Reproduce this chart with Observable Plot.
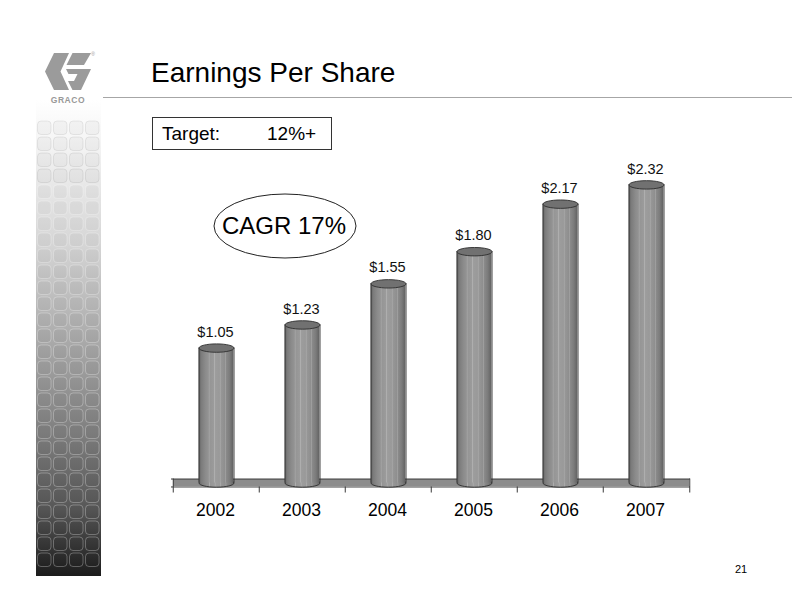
<!DOCTYPE html>
<html><head><meta charset="utf-8">
<script src="https://cdn.jsdelivr.net/npm/d3@7"></script>
<script src="https://cdn.jsdelivr.net/npm/@observablehq/plot@0.6"></script>
<style>
body{margin:0;background:#fff;font-family:"Liberation Sans",Arial,sans-serif;}
#page{position:relative;width:792px;height:612px;overflow:hidden;background:#fff;}
#chart,#deco{position:absolute;left:0;top:0;}
#deco{pointer-events:none;}
</style></head><body>
<div id="page"><div id="chart"></div><svg id="deco" width="792" height="612"></svg></div>
<script>
// ---- data ----
const years = ["2002", "2003", "2004", "2005", "2006", "2007"];
const eps = [1.05, 1.23, 1.55, 1.80, 2.17, 2.32];
const titleText = "Earnings Per Share";
const targetLabel = "Target:";
const targetValue = "12%+";
const cagrText = "CAGR 17%";
const pageNumber = "21";

const data = years.map((y, i) => ({year: y, eps: eps[i]}));

// ---- layout ----
const W = 792, H = 612, mL = 171, mR = 102, mT = 161.25, mB = 129.5;
const bw = (W - mL - mR) / years.length;
const cylW = 35, inset = (bw - cylW) / 2;
const baseHalf = 0.031, tickEnd = -0.078;

const ellipseSym = k => ({
  draw(ctx, size) {
    const rx = Math.sqrt(size / Math.PI), ry = rx * k, c = 0.5523;
    ctx.moveTo(rx, 0);
    ctx.bezierCurveTo(rx, ry * c, rx * c, ry, 0, ry);
    ctx.bezierCurveTo(-rx * c, ry, -rx, ry * c, -rx, 0);
    ctx.bezierCurveTo(-rx, -ry * c, -rx * c, -ry, 0, -ry);
    ctx.bezierCurveTo(rx * c, -ry, rx, -ry * c, rx, 0);
    ctx.closePath();
  }
});
const ell = ellipseSym(0.24);

const chart = Plot.plot({
  width: W, height: H,
  marginLeft: mL, marginRight: mR, marginTop: mT, marginBottom: mB,
  style: {background: "transparent", fontFamily: "'Liberation Sans', Arial, sans-serif", overflow: "visible"},
  x: {type: "band", domain: years, padding: 0, axis: null},
  y: {domain: [0, 2.5], axis: null},
  marks: [
    // floor plane
    Plot.barY(years, {x: d => d, y1: -baseHalf, y2: baseHalf, fill: "#8c8c8c", inset: 0, shapeRendering: "crispEdges"}),
    Plot.ruleY([baseHalf, -baseHalf], {stroke: "#3a3a3a", strokeWidth: 1}),
    // ticks at band edges
    Plot.ruleX(years, {x: d => d, y1: d => d === years[0] ? baseHalf : -baseHalf, y2: tickEnd, dx: -bw / 2, stroke: "#3a3a3a"}),
    Plot.ruleX([years[years.length - 1]], {x: d => d, y1: baseHalf, y2: tickEnd, dx: bw / 2, stroke: "#3a3a3a"}),
    // cylinder bottoms
    Plot.dot(data, {x: "year", y: () => 0, r: cylW / 2, symbol: ell, fill: "url(#cyl)", stroke: "#2e2e2e", strokeWidth: 0.9}),
    // cylinder bodies
    Plot.barY(data, {x: "year", y: "eps", fill: "url(#cyl)", insetLeft: inset, insetRight: inset}),
    Plot.ruleX(data, {x: "year", y1: 0, y2: "eps", dx: -cylW / 2, stroke: "#2e2e2e", strokeWidth: 0.9}),
    Plot.ruleX(data, {x: "year", y1: 0, y2: "eps", dx: cylW / 2, stroke: "#2e2e2e", strokeWidth: 0.9}),
    // cylinder tops
    Plot.dot(data, {x: "year", y: "eps", r: cylW / 2, symbol: ell, fill: "#717171", stroke: "#2e2e2e", strokeWidth: 0.9}),
    // value labels
    Plot.text(data, {x: "year", y: "eps", text: d => "$" + d.eps.toFixed(2), dy: -16, dx: -1, fontSize: 14.5, fill: "#111"}),
    // year labels
    Plot.text(years, {x: d => d, y: () => 0, text: d => d, dy: 27, dx: -1, fontSize: 17.5, fill: "#000"})
  ]
});
document.getElementById("chart").appendChild(chart);

// ---- decorations ----
const deco = d3.select("#deco");
const defs = deco.append("defs");
const g = defs.append("linearGradient").attr("id", "cyl").attr("x1", 0).attr("x2", 1).attr("y1", 0).attr("y2", 0);
[[0,"#646464"],[0.08,"#7c7c7c"],[0.2,"#8c8c8c"],[0.28,"#939393"],[0.3,"#adadad"],[0.32,"#959595"],
 [0.44,"#9b9b9b"],[0.46,"#b2b2b2"],[0.48,"#9d9d9d"],[0.6,"#999999"],[0.62,"#afafaf"],[0.64,"#979797"],
 [0.75,"#8f8f8f"],[0.77,"#a4a4a4"],[0.79,"#8b8b8b"],[0.9,"#7b7b7b"],[1,"#626262"]]
  .forEach(([o, c]) => g.append("stop").attr("offset", o).attr("stop-color", c));
const sg = defs.append("linearGradient").attr("id", "side").attr("x1", 0).attr("x2", 0).attr("y1", 0).attr("y2", 1);
[[0,"#ffffff"],[0.08,"#f6f6f6"],[0.3,"#d6d6d6"],[0.5,"#ababab"],[0.7,"#7f7f7f"],[0.86,"#575757"],[1,"#1c1c1c"]]
  .forEach(([o, c]) => sg.append("stop").attr("offset", o).attr("stop-color", c));

// sidebar
deco.append("rect").attr("x", 36).attr("y", 100).attr("width", 65).attr("height", 476).attr("fill", "url(#side)");
const sq = deco.append("g");
for (let r = 0; r < 28; r++) for (let c = 0; c < 4; c++) {
  sq.append("rect").attr("x", 37.5 + c * 16).attr("y", 121 + r * 16).attr("width", 13.5).attr("height", 13.5)
    .attr("rx", 3.5).attr("fill", "rgba(0,0,0,0.03)")
    .attr("stroke", r < 4 ? "rgba(0,0,0,0.07)" : "rgba(255,255,255,0.28)").attr("stroke-width", 1);
}

// logo
const logo = deco.append("g").attr("fill", "#9b9b9b");
logo.append("path").attr("d", "M54,53 L69,53 L60.5,71.5 L69,90 L54,90 L45,71.5 Z");
logo.append("path").attr("d", "M72.5,53 L91,53 L84,65 L66.5,65 Z");
logo.append("path").attr("d", "M66,69 L91,69 L81,90 L72.5,90 L68,81 L74,81 L77.5,74 L68.5,74 Z");
logo.append("text").attr("x", 68).attr("y", 103).attr("text-anchor", "middle").attr("font-size", 8.5)
  .attr("font-weight", "bold").attr("letter-spacing", 0.6).attr("font-family", "'Liberation Sans', Arial, sans-serif")
  .attr("fill", "#999").text("GRACO");
logo.append("text").attr("x", 93).attr("y", 56).attr("text-anchor", "middle").attr("font-size", 5).attr("fill", "#999").text("®");

const ff = "'Liberation Sans', Arial, sans-serif";
deco.append("text").attr("x", 151).attr("y", 82).attr("font-size", 28).attr("font-family", ff).attr("fill", "#000").text(titleText);
deco.append("line").attr("x1", 103).attr("x2", 792).attr("y1", 97.5).attr("y2", 97.5).attr("stroke", "#a6a6a6");

deco.append("rect").attr("x", 152.5).attr("y", 117.5).attr("width", 179).attr("height", 32).attr("fill", "none").attr("stroke", "#333");
deco.append("text").attr("x", 162).attr("y", 140).attr("font-size", 19).attr("font-family", ff).text(targetLabel);
deco.append("text").attr("x", 267).attr("y", 140).attr("font-size", 19).attr("font-family", ff).text(targetValue);

deco.append("ellipse").attr("cx", 285).attr("cy", 226).attr("rx", 71).attr("ry", 32).attr("fill", "none").attr("stroke", "#222");
deco.append("text").attr("x", 284).attr("y", 234).attr("text-anchor", "middle").attr("font-size", 24).attr("font-family", ff).text(cagrText);

deco.append("text").attr("x", 741).attr("y", 573).attr("text-anchor", "middle").attr("font-size", 11).attr("font-family", ff).text(pageNumber);
</script>
</body></html>
